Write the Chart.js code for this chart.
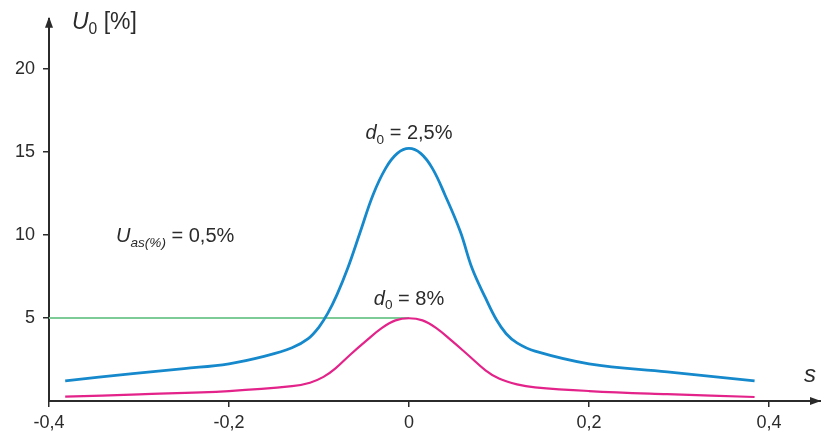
<!DOCTYPE html>
<html lang="en">
<head>
    <meta charset="UTF-8">
    <title>U0 vs s</title>
    <script src="https://cdn.jsdelivr.net/npm/chart.js"></script>
    <style>
        html, body { margin: 0; padding: 0; background: #fff; }
        .wrap { width: 821px; height: 436px; position: relative; }
    </style>
</head>
<body>
    <div class="wrap"><canvas id="chart"></canvas></div>

    <script>
        // Curve for d0 = 2,5 %
        const sBlue = [-0.382, -0.307, -0.25, -0.2, -0.16, -0.13, -0.112, -0.1, -0.09, -0.08, -0.068, -0.054, -0.04, -0.026, -0.013, 0, 0.013, 0.026, 0.04, 0.057, 0.07, 0.085, 0.097, 0.108, 0.12, 0.14, 0.2, 0.287, 0.384];
        const uBlue = [1.21, 1.65, 1.95, 2.24, 2.7, 3.2, 3.75, 4.45, 5.3, 6.4, 8.0, 10.2, 12.4, 14.0, 14.9, 15.2, 14.9, 14.0, 12.4, 10.2, 8.0, 6.2, 4.9, 4.05, 3.5, 3.0, 2.24, 1.75, 1.21];

        // Curve for d0 = 8 %
        const sPink = [-0.382, -0.3, -0.2, -0.13, -0.11, -0.095, -0.082, -0.065, -0.048, -0.03, -0.015, 0, 0.015, 0.03, 0.048, 0.065, 0.085, 0.1, 0.12, 0.14, 0.2, 0.287, 0.384];
        const uPink = [0.26, 0.4, 0.6, 0.89, 1.1, 1.45, 1.95, 2.8, 3.6, 4.4, 4.85, 4.98, 4.85, 4.4, 3.6, 2.8, 1.85, 1.35, 1.0, 0.82, 0.6, 0.41, 0.24];

        // Reference level U0 = 5 %
        const sRef = [-0.4, 0];
        const uRef = [5, 5];

        const xTicks = [-0.4, -0.2, 0, 0.2, 0.4];
        const yTicks = [5, 10, 15, 20];

        const FONT = '"Liberation Sans", Arial, Helvetica, sans-serif';
        const TEXT = '#2b2b2b';

        const pts = (xs, ys) => xs.map((x, i) => ({ x: x, y: ys[i] }));

        // draw text made of pieces (italic / subscript)
        function drawRich(ctx, parts, x, y, size, align) {
            let w = 0;
            const m = parts.map(p => {
                const fs = p.sub ? size * 0.68 : size;
                const f = (p.italic ? 'italic ' : '') + fs + 'px ' + FONT;
                ctx.font = f;
                const pw = ctx.measureText(p.t).width;
                w += pw;
                return { p, f, pw, fs };
            });
            let cx = align === 'center' ? x - w / 2 : x;
            ctx.textBaseline = 'alphabetic';
            ctx.textAlign = 'left';
            ctx.fillStyle = TEXT;
            m.forEach(o => {
                ctx.font = o.f;
                ctx.fillText(o.p.t, cx, o.p.sub ? y + size * 0.22 : y);
                cx += o.pw;
            });
        }

        const decorations = {
            id: 'decorations',
            afterDraw(chart) {
                const ctx = chart.ctx;
                const xs = chart.scales.x, ys = chart.scales.y;
                const x0 = xs.left, yb = ys.bottom;
                ctx.save();
                ctx.fillStyle = '#2b2b2b';
                // arrow on y axis
                ctx.beginPath();
                ctx.moveTo(x0, ys.top - 2);
                ctx.lineTo(x0 - 4, ys.top + 9);
                ctx.lineTo(x0 + 4, ys.top + 9);
                ctx.closePath();
                ctx.fill();
                // arrow on x axis
                ctx.beginPath();
                ctx.moveTo(xs.right, yb);
                ctx.lineTo(xs.right - 11, yb - 4);
                ctx.lineTo(xs.right - 11, yb + 4);
                ctx.closePath();
                ctx.fill();

                // axis titles
                drawRich(ctx, [{ t: 'U', italic: true }, { t: '0', sub: true }, { t: ' [%]' }], 72, 29, 23, 'left');
                drawRich(ctx, [{ t: 's', italic: true }], 804, 382, 24, 'left');

                // curve labels
                drawRich(ctx, [{ t: 'd', italic: true }, { t: '0', sub: true }, { t: ' = 2,5%' }],
                    xs.getPixelForValue(0), ys.getPixelForValue(15.75), 20, 'center');
                drawRich(ctx, [{ t: 'd', italic: true }, { t: '0', sub: true }, { t: ' = 8%' }],
                    xs.getPixelForValue(0), ys.getPixelForValue(5.8), 20, 'center');
                drawRich(ctx, [{ t: 'U', italic: true }, { t: 'as(%)', italic: true, sub: true }, { t: ' = 0,5%' }],
                    116, ys.getPixelForValue(9.55), 20, 'left');
                ctx.restore();
            }
        };

        new Chart(document.getElementById('chart'), {
            type: 'line',
            data: {
                datasets: [
                    {
                        data: pts(sRef, uRef),
                        borderColor: '#7dcc98',
                        borderWidth: 2,
                        pointRadius: 0,
                        order: 3
                    },
                    {
                        data: pts(sPink, uPink),
                        borderColor: '#e3238a',
                        borderWidth: 2.2,
                        pointRadius: 0,
                        tension: 0.4,
                        order: 2
                    },
                    {
                        data: pts(sBlue, uBlue),
                        borderColor: '#1689cc',
                        borderWidth: 2.8,
                        pointRadius: 0,
                        tension: 0.4,
                        order: 1
                    }
                ]
            },
            options: {
                responsive: true,
                maintainAspectRatio: false,
                animation: false,
                layout: { padding: { top: 14, right: 0, left: 0, bottom: 0 } },
                plugins: {
                    legend: { display: false },
                    tooltip: { enabled: false }
                },
                scales: {
                    x: {
                        type: 'linear',
                        min: -0.4,
                        max: 0.4578,
                        afterBuildTicks: s => { s.ticks = xTicks.map(v => ({ value: v })); },
                        afterFit: s => { s.height = 35; },
                        grid: { drawOnChartArea: false, tickLength: 6, color: '#2b2b2b', lineWidth: 1.5 },
                        border: { color: '#2b2b2b', width: 2 },
                        ticks: {
                            padding: 5,
                            color: TEXT,
                            font: { family: FONT, size: 18 },
                            maxRotation: 0,
                            callback: v => v === 0 ? '0' : v.toFixed(1).replace('.', ',')
                        }
                    },
                    y: {
                        min: 0,
                        max: 23,
                        afterBuildTicks: s => { s.ticks = yTicks.map(v => ({ value: v })); },
                        afterFit: s => { s.width = 49; },
                        grid: { drawOnChartArea: false, tickLength: 6, color: '#2b2b2b', lineWidth: 1.5 },
                        border: { color: '#2b2b2b', width: 2 },
                        ticks: {
                            padding: 8,
                            color: TEXT,
                            font: { family: FONT, size: 18 }
                        }
                    }
                }
            },
            plugins: [decorations]
        });
    </script>
</body>
</html>
